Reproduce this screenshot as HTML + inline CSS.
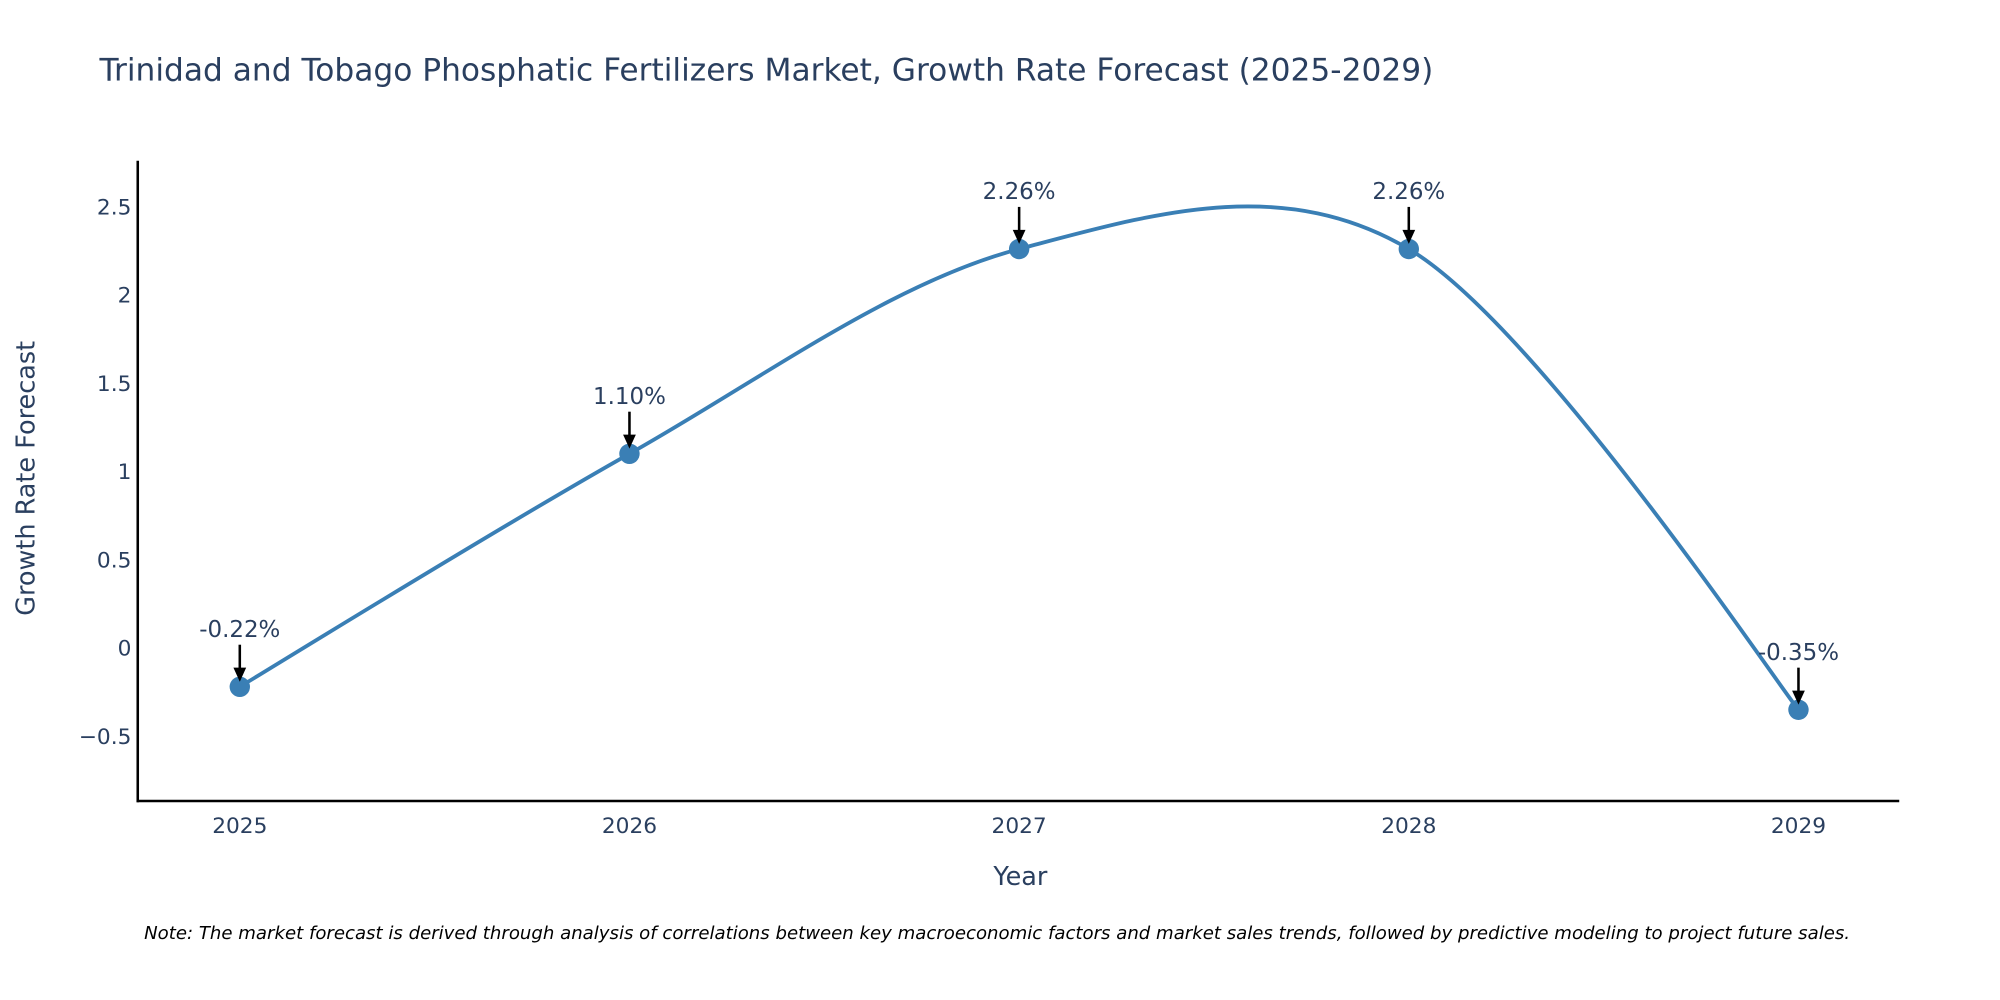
<!DOCTYPE html>
<html><head><meta charset="utf-8"><style>
html,body{margin:0;padding:0;background:#fff;width:2000px;height:1000px;overflow:hidden}
svg{display:block;font-family:"DejaVu Sans","Liberation Sans",sans-serif}
</style></head><body>
<svg width="2000" height="1000" viewBox="0 0 1568 784" xmlns="http://www.w3.org/2000/svg">
<text x="78" y="63" font-size="24.5" fill="#2a3f5f">Trinidad and Tobago Phosphatic Fertilizers Market, Growth Rate Forecast (2025-2029)</text>
<g id="yticks"></g>
<g id="xticks"></g>
<line x1="108" y1="126" x2="108" y2="629" stroke="#000" stroke-width="2"/>
<line x1="107" y1="628" x2="1489" y2="628" stroke="#000" stroke-width="2"/>
<text x="800" y="694" font-size="20" fill="#2a3f5f" text-anchor="middle">Year</text>
<text transform="translate(27,375) rotate(-90)" font-size="20" fill="#2a3f5f" text-anchor="middle">Growth Rate Forecast</text>
<path id="line" fill="none" stroke="#3a7fb5" stroke-width="3"/>
<g id="marks"></g>
<text x="113" y="736" font-size="14.2" font-style="italic" fill="#000">Note: The market forecast is derived through analysis of correlations between key macroeconomic factors and market sales trends, followed by predictive modeling to project future sales.</text>
</svg>
<script>
const years=[2025,2026,2027,2028,2029];
const values=[-0.22,1.10,2.26,2.26,-0.35];
const labels=["-0.22%","1.10%","2.26%","2.26%","-0.35%"];
const yTicks=[-0.5,0,0.5,1,1.5,2,2.5];
const yTickLabels=["\u22120.5","0","0.5","1","1.5","2","2.5"];
const NS="http://www.w3.org/2000/svg";
const xs=y=>188+(y-2025)*305.5;
const ys=v=>508-v*138.4;
function mk(t,a,p){const e=document.createElementNS(NS,t);for(const k in a)e.setAttribute(k,a[k]);p.appendChild(e);return e;}
const yt=document.getElementById('yticks');
yTicks.forEach((v,i)=>{const t=mk('text',{x:103,y:ys(v)+6,'font-size':17,fill:'#2a3f5f','text-anchor':'end'},yt);


t.textContent=yTickLabels[i];});
const xt=document.getElementById('xticks');
years.forEach(y=>{const t=mk('text',{x:xs(y),y:653,'font-size':17,fill:'#2a3f5f','text-anchor':'middle'},xt);


t.textContent=y;});
const P=years.map((y,i)=>[xs(y),ys(values[i])]);
let d="M"+P[0][0]+","+P[0][1];
const k=0.33;
for(let i=0;i<P.length-1;i++){const p0=P[Math.max(i-1,0)],p1=P[i],p2=P[i+1],p3=P[Math.min(i+2,P.length-1)];
const k1=i===0?0.15:k, k2=i===P.length-2?0.1:k;
const c1=[p1[0]+(p2[0]-p0[0])*k1*0.5,p1[1]+(p2[1]-p0[1])*k1*0.5];
const c2=[p2[0]-(p3[0]-p1[0])*k2*0.5,p2[1]-(p3[1]-p1[1])*k2*0.5];
d+=" C"+c1[0]+","+c1[1]+" "+c2[0]+","+c2[1]+" "+p2[0]+","+p2[1];}
document.getElementById('line').setAttribute('d',d);
const g=document.getElementById('marks');
P.forEach((p,i)=>{const c=mk('circle',{cx:p[0],cy:p[1],r:8,fill:'#3a7fb5'},g);


const l=mk('line',{x1:p[0],y1:p[1]-33,x2:p[0],y2:p[1]-14,stroke:'#000','stroke-width':2},g);


const h=mk('polygon',{points:(p[0]-5)+","+(p[1]-15)+" "+(p[0]+5)+","+(p[1]-15)+" "+p[0]+","+(p[1]-4),fill:'#000'},g);


const t=mk('text',{x:p[0],y:p[1]-39,'font-size':18,fill:'#2a3f5f','text-anchor':'middle'},g);


t.textContent=labels[i];});
</script>
</body></html>
